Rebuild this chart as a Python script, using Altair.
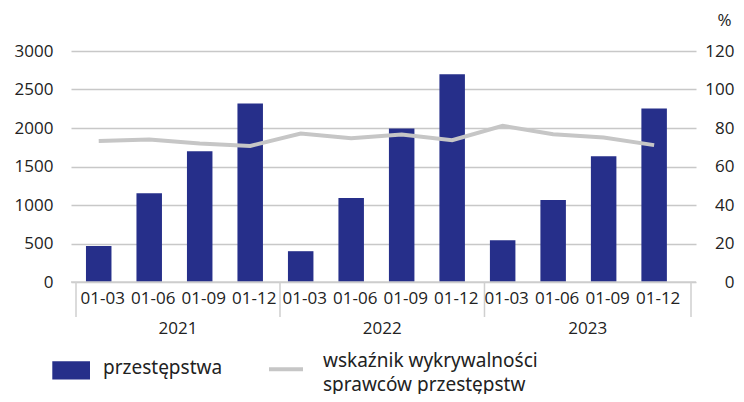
import altair as alt
import pandas as pd

years = ["2021", "2022", "2023"]
quarters = ["01-03", "01-06", "01-09", "01-12"]
crimes = [469, 1153, 1699, 2318, 400, 1092, 1994, 2699, 543, 1066, 1634, 2253]
rate = [73.3, 74.0, 71.9, 70.7, 77.1, 74.7, 76.6, 73.7, 81.1, 76.8, 75.1, 71.1]
left_ticks = [0, 500, 1000, 1500, 2000, 2500, 3000]
right_ticks = [0, 20, 40, 60, 80, 100, 120]

df = pd.DataFrame({
    "i": list(range(12)),
    "q": quarters * 3,
    "year": [y for y in years for _ in range(4)],
    "crimes": crimes,
    "rate": rate,
})

DOMAIN = [-0.45, 11.73]
seps = [DOMAIN[0], 3.59, 7.64, DOMAIN[1]]
sep_df = pd.DataFrame({"b": seps})
year_df = pd.DataFrame({"year": years, "c": [(seps[k] + seps[k + 1]) / 2 for k in range(3)]})

W, H = 625, 231
FONT = "Open Sans"
LFONT = "Noto Sans"
TXT = "#222222"
BLUE = "#262F8A"
GRAYLINE = "#C6C6C6"
AXGRAY = "#CFCFCF"

xs = alt.Scale(domain=DOMAIN, nice=False, zero=False)

def X(field):
    return alt.X(field, scale=xs, axis=None)

bars = alt.Chart(df).mark_bar(color=BLUE, size=25.5).encode(
    x=X("i:Q"),
    y=alt.Y("crimes:Q", scale=alt.Scale(domain=[0, 3000], nice=False),
            axis=alt.Axis(values=left_ticks, format="d", title=None, domain=False, ticks=False,
                          labelPadding=18, grid=True, gridColor="#C8C8C8", gridWidth=1.3,
                          labelFontSize=17, labelFont=FONT, labelColor=TXT)),
)

line = alt.Chart(df).mark_line(color=GRAYLINE, strokeWidth=4).encode(
    x=X("i:Q"),
    y=alt.Y("rate:Q", scale=alt.Scale(domain=[0, 120], nice=False),
            axis=alt.Axis(orient="right", values=right_ticks, format="d", title="%", titleAngle=0,
                          titleX=28, titleY=-31, titleAlign="center", titleBaseline="middle",
                          titleFontWeight="normal", titleFontSize=17, titleFont=FONT,
                          titleColor=TXT, domain=False, ticks=False, grid=False,
                          labelAlign="right", labelPadding=38, labelFontSize=17,
                          labelFont=FONT, labelColor=TXT)),
)

baseline = alt.Chart(pd.DataFrame({"a": [0]})).mark_rule(color=AXGRAY, strokeWidth=1.5).encode(
    x=alt.value(0), x2=alt.value(W), y=alt.value(H)
)

sep_rules = alt.Chart(sep_df).mark_rule(color=AXGRAY, strokeWidth=1.5).encode(
    x=X("b:Q"), y=alt.value(H), y2=alt.value(H + 35)
)

qlabels = alt.Chart(df).mark_text(font=FONT, fontSize=17, color=TXT, dx=4, baseline="middle").encode(
    x=X("i:Q"), y=alt.value(H + 16.5), text="q:N"
)

ylabels = alt.Chart(year_df).mark_text(font=FONT, fontSize=17, color=TXT, baseline="middle").encode(
    x=X("c:Q"), y=alt.value(H + 46.5), text="year:N"
)

one = pd.DataFrame({"a": [0]})
leg_rect = alt.Chart(one).mark_rect(color=BLUE).encode(
    x=alt.value(-18.7), x2=alt.value(19), y=alt.value(310.3), y2=alt.value(328.6)
)
leg_line = alt.Chart(one).mark_rule(color=GRAYLINE, strokeWidth=4).encode(
    x=alt.value(198), x2=alt.value(232), y=alt.value(318.3)
)
leg_labels = ["przestępstwa", "wskaźnik wykrywalności", "sprawców przestępstw"]
leg_texts = []
for t, lx, ly in zip(leg_labels, [32, 252, 252], [317.3, 310.0, 334.0]):
    leg_texts.append(
        alt.Chart(pd.DataFrame({"t": [t]})).mark_text(
            font=LFONT, fontSize=19, color=TXT, align="left", baseline="middle"
        ).encode(x=alt.value(lx), y=alt.value(ly), text="t:N")
    )

chart = alt.layer(
    bars, line, baseline, sep_rules, qlabels, ylabels, leg_rect, leg_line, *leg_texts
).resolve_scale(y="independent").properties(
    width=W, height=H,
    autosize=alt.AutoSizeParams(type="none"),
    padding={"left": 63, "top": 43, "right": 40, "bottom": 112},
    view=alt.ViewBackground(stroke="transparent", strokeWidth=0),
).configure_view(stroke="transparent", strokeWidth=0).configure_axis(domain=False)

chart.save("out.html", embed_options={"renderer": "svg", "actions": False})
